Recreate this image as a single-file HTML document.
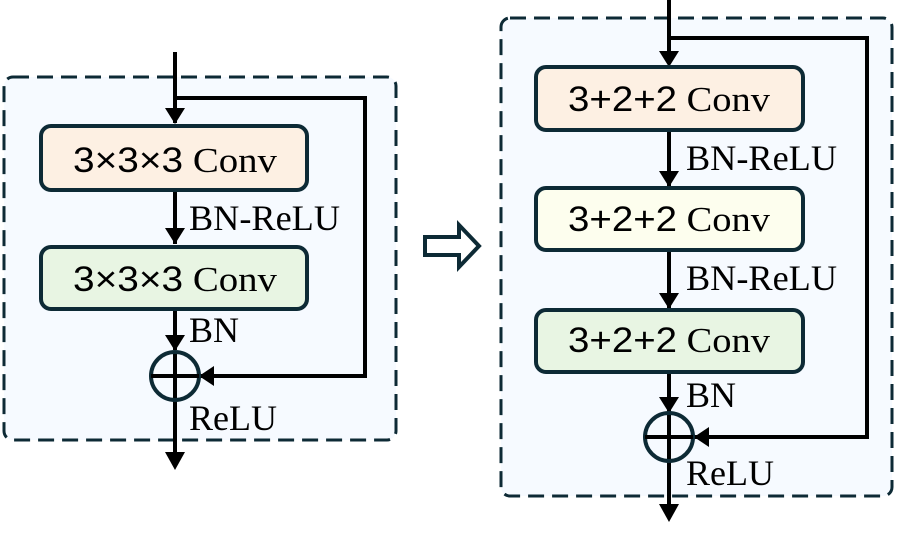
<!DOCTYPE html>
<html><head><meta charset="utf-8"><style>
html,body{margin:0;padding:0;background:#fff;}
svg{display:block}
.s{font-family:"Liberation Sans",sans-serif}
.r{font-family:"Liberation Serif",serif}
</style></head><body>
<svg width="897" height="546" viewBox="0 0 897 546" xmlns="http://www.w3.org/2000/svg">
<!-- left panel -->
<rect x="4" y="77" width="392" height="363" rx="9" fill="#f6faff" stroke="#0d2a35" stroke-width="3" stroke-dasharray="16,8"/>
<g stroke="#000" stroke-width="4" fill="none">
<line x1="175" y1="52" x2="175" y2="123"/>
<polyline points="175,98 365,98 365,376 200,376"/>
<line x1="175" y1="191" x2="175" y2="244"/>
<line x1="175" y1="310" x2="175" y2="350"/>
<line x1="175" y1="351" x2="175" y2="455"/>
</g>
<g fill="#000">
<path d="M165,108 L185,108 L175,124 z"/>
<path d="M165,228 L185,228 L175,244 z"/>
<path d="M165,335 L185,335 L175,351 z"/>
<path d="M165,452 L185,452 L175,470 z"/>
<path d="M214,366 L214,386 L199,376 z"/>
</g>
<rect x="41" y="126" width="266" height="64" rx="10" fill="#fdf0e3" stroke="#0d2a35" stroke-width="4"/>
<rect x="41" y="247" width="266" height="62" rx="10" fill="#e8f5e3" stroke="#0d2a35" stroke-width="4"/>
<circle cx="175" cy="376" r="24" fill="none" stroke="#0d2a35" stroke-width="4"/>
<line x1="151" y1="376" x2="199" y2="376" stroke="#000" stroke-width="4"/>
<text x="73" y="172" font-size="35" textLength="204" lengthAdjust="spacingAndGlyphs"><tspan class="s">3×3×3</tspan><tspan class="r"> Conv</tspan></text>
<text x="73" y="291" font-size="35" textLength="204" lengthAdjust="spacingAndGlyphs"><tspan class="s">3×3×3</tspan><tspan class="r"> Conv</tspan></text>
<text x="189" y="230" font-size="36" class="r" textLength="151" lengthAdjust="spacingAndGlyphs">BN-ReLU</text>
<text x="189" y="342" font-size="36" class="r">BN</text>
<text x="189" y="430" font-size="36" class="r">ReLU</text>
<!-- hollow arrow -->
<path d="M425,237 L459,237 L459,225 L479,246 L459,267 L459,255 L425,255 z" fill="#fff" stroke="#0d2a35" stroke-width="4"/>
<!-- right panel -->
<rect x="501" y="18" width="391" height="478" rx="9" fill="#f6faff" stroke="#0d2a35" stroke-width="3" stroke-dasharray="16,8"/>
<g stroke="#000" stroke-width="4" fill="none">
<line x1="669" y1="0" x2="669" y2="64"/>
<polyline points="669,38 867,38 867,437 694,437"/>
<line x1="669" y1="131" x2="669" y2="186"/>
<line x1="669" y1="251" x2="669" y2="308"/>
<line x1="669" y1="373" x2="669" y2="508"/>
</g>
<g fill="#000">
<path d="M659,51 L679,51 L669,67 z"/>
<path d="M659,171 L679,171 L669,187 z"/>
<path d="M659,293 L679,293 L669,309 z"/>
<path d="M659,397 L679,397 L669,413 z"/>
<path d="M659,504 L679,504 L669,522 z"/>
<path d="M709,427 L709,447 L694,437 z"/>
</g>
<rect x="536" y="67" width="267" height="63" rx="10" fill="#fdf0e3" stroke="#0d2a35" stroke-width="4"/>
<rect x="536" y="188" width="267" height="62" rx="10" fill="#fdfeee" stroke="#0d2a35" stroke-width="4"/>
<rect x="536" y="310" width="267" height="62" rx="10" fill="#e8f5e3" stroke="#0d2a35" stroke-width="4"/>
<circle cx="669" cy="437" r="24" fill="none" stroke="#0d2a35" stroke-width="4"/>
<line x1="645" y1="437" x2="693" y2="437" stroke="#000" stroke-width="4"/>
<text x="568" y="111" font-size="35" textLength="202" lengthAdjust="spacingAndGlyphs"><tspan class="s">3+2+2</tspan><tspan class="r"> Conv</tspan></text>
<text x="568" y="231" font-size="35" textLength="202" lengthAdjust="spacingAndGlyphs"><tspan class="s">3+2+2</tspan><tspan class="r"> Conv</tspan></text>
<text x="568" y="352" font-size="35" textLength="202" lengthAdjust="spacingAndGlyphs"><tspan class="s">3+2+2</tspan><tspan class="r"> Conv</tspan></text>
<text x="686" y="170" font-size="36" class="r" textLength="151" lengthAdjust="spacingAndGlyphs">BN-ReLU</text>
<text x="686" y="290" font-size="36" class="r" textLength="151" lengthAdjust="spacingAndGlyphs">BN-ReLU</text>
<text x="686" y="407" font-size="36" class="r">BN</text>
<text x="686" y="485" font-size="36" class="r">ReLU</text>
</svg>
</body></html>
